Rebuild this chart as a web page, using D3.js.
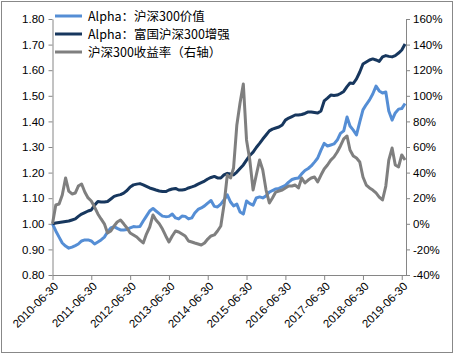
<!DOCTYPE html>
<html>
<head>
<meta charset="utf-8">
<script src="https://cdn.jsdelivr.net/npm/d3@7"></script>
<style>
  body { margin: 0; background: #fff; }
  svg { display: block; }
</style>
</head>
<body>
<div id="chart"></div>
<script>
// month-end readings, first one is 2010-06-30, last one is 2019-07-31
var tickLabels = ["2010-06-30", "2011-06-30", "2012-06-30", "2013-06-30", "2014-06-30",
                  "2015-06-30", "2016-06-30", "2017-06-30", "2018-06-30", "2019-06-30"]

var seriesNames = ["Alpha：沪深300价值", "Alpha：富国沪深300增强", "沪深300收益率（右轴）"]

// Alpha：沪深300价值 (left axis)
var valueAlpha = [
  1.000, 0.972, 0.948, 0.925, 0.913, 0.905, 0.909, 0.915, 0.921, 0.933, 0.937, 0.937,
  0.933, 0.921, 0.929, 0.937, 0.948, 0.968, 0.984, 0.989, 0.982, 0.976, 0.976, 0.978,
  0.984, 0.989, 0.988, 0.989, 1.011, 1.030, 1.050, 1.060, 1.050, 1.040, 1.030, 1.028,
  1.029, 1.038, 1.023, 1.019, 1.030, 1.029, 1.019, 1.023, 1.042, 1.056, 1.062, 1.070,
  1.081, 1.091, 1.068, 1.066, 1.077, 1.093, 1.113, 1.085, 1.070, 1.077, 1.046, 1.038,
  1.089, 1.079, 1.073, 1.101, 1.105, 1.101, 1.109, 1.124, 1.130, 1.136, 1.138, 1.144,
  1.150, 1.163, 1.173, 1.177, 1.179, 1.195, 1.208, 1.216, 1.226, 1.241, 1.257, 1.288,
  1.314, 1.304, 1.308, 1.312, 1.327, 1.353, 1.363, 1.417, 1.382, 1.366, 1.347, 1.398,
  1.445, 1.466, 1.484, 1.507, 1.538, 1.519, 1.511, 1.515, 1.441, 1.405, 1.433, 1.448,
  1.450, 1.470
]

// Alpha：富国沪深300增强 (left axis)
var fuguoAlpha = [
  1.000, 1.003, 1.005, 1.007, 1.009, 1.011, 1.015, 1.019, 1.029, 1.038, 1.044, 1.050,
  1.054, 1.073, 1.087, 1.085, 1.085, 1.087, 1.097, 1.107, 1.111, 1.114, 1.120, 1.130,
  1.144, 1.152, 1.155, 1.157, 1.152, 1.146, 1.140, 1.136, 1.132, 1.128, 1.126, 1.126,
  1.132, 1.136, 1.138, 1.132, 1.132, 1.134, 1.140, 1.144, 1.148, 1.155, 1.161, 1.167,
  1.175, 1.181, 1.185, 1.179, 1.179, 1.191, 1.197, 1.195, 1.191, 1.202, 1.216, 1.230,
  1.249, 1.267, 1.280, 1.298, 1.314, 1.331, 1.347, 1.363, 1.370, 1.374, 1.378, 1.386,
  1.405, 1.413, 1.419, 1.425, 1.425, 1.427, 1.431, 1.437, 1.437, 1.435, 1.433, 1.441,
  1.480, 1.491, 1.503, 1.501, 1.503, 1.509, 1.517, 1.536, 1.550, 1.548, 1.566, 1.593,
  1.624, 1.632, 1.640, 1.644, 1.640, 1.634, 1.652, 1.657, 1.654, 1.652, 1.657, 1.667,
  1.679, 1.702
]

// 沪深300收益率, percent (right axis)
var hs300Return = [
   0.0, 14.7, 15.5, 22.5, 35.8, 25.6, 23.3, 24.1, 29.5, 31.1, 24.8, 20.2,
  17.8, 13.1,  7.7,  3.8,  0.0, -7.2, -5.6, -1.7,  1.4,  3.0,  0.0, -3.3,
  -7.2, -8.7,-10.3,-12.7,-15.0, -8.0, -2.5,  6.9,  3.0,  0.0, -4.1, -9.5,
 -14.2, -9.5, -5.6, -6.4, -8.0, -9.5,-13.4,-14.2,-15.0,-15.8,-16.6,-15.0,
 -11.9, -9.5, -8.7, -5.6, -1.7, 14.7, 38.1, 35.8, 43.6, 77.2, 94.4,109.2,
  65.5, 49.8, 26.4, 38.1, 49.8, 42.0, 26.4, 16.3, 20.2, 24.8, 25.6, 26.4,
  28.0, 29.5, 29.5, 30.3, 28.0, 35.8, 31.9, 34.2, 35.8, 36.6, 32.7, 38.1,
  42.8, 45.9, 49.8, 52.2, 56.1, 60.8, 66.3, 68.6, 57.7, 53.0, 51.4, 48.3,
  36.6, 30.3, 28.0, 26.4, 24.1, 20.9, 18.6, 29.5, 49.8, 59.2, 45.9, 44.4,
  53.8, 49.8
]

var colors = ["#558ED5", "#17375E", "#7F7F7F"]

var W = 454, H = 354
var margin = {top: 19, right: 48, bottom: 79, left: 52.5}

var parseDate = d3.timeParse("%Y-%m-%d")
var start = new Date(2010, 6, 1)
var dates = valueAlpha.map((d, i) => d3.timeDay.offset(d3.timeMonth.offset(start, i), -1))

var x = d3.scaleTime()
  .domain([parseDate("2010-06-30"), parseDate("2019-08-09")])
  .range([margin.left, W - margin.right])
var yL = d3.scaleLinear()
  .domain([0.8, 1.8])
  .range([H - margin.bottom, margin.top])
var yR = d3.scaleLinear()
  .domain([-40, 160])
  .range([H - margin.bottom, margin.top])

var svg = d3.select("#chart")
  .append("svg")
  .attr("width", W)
  .attr("height", H)

// outer frame
svg.append("rect")
  .attr("x", 1.5).attr("y", 1.5)
  .attr("width", W - 3).attr("height", H - 3)
  .attr("fill", "#fff")
  .attr("stroke", "#888")
  .attr("stroke-width", 1)

var axisColor = "#868686"
var tickFont = "'Liberation Sans', Arial, sans-serif"

function styleAxis(g) {
  g.select(".domain").attr("stroke", axisColor)
  g.selectAll(".tick line").attr("stroke", axisColor)
  g.selectAll("text")
    .attr("fill", "#000")
    .style("font-family", tickFont)
    .style("font-size", "11.5px")
}

svg.append("g")
  .attr("transform", `translate(${margin.left},0)`)
  .call(d3.axisLeft(yL)
    .tickValues(d3.range(0, 11).map(i => 0.8 + i * 0.1))
    .tickFormat(d3.format(".2f"))
    .tickSize(4).tickSizeOuter(0).tickPadding(4))
  .call(styleAxis)

svg.append("g")
  .attr("transform", `translate(${W - margin.right},0)`)
  .call(d3.axisRight(yR)
    .tickValues(d3.range(-40, 161, 20))
    .tickFormat(d => d + "%")
    .tickSize(4).tickSizeOuter(0).tickPadding(3))
  .call(styleAxis)

var xAxis = svg.append("g")
  .attr("transform", `translate(0,${H - margin.bottom})`)
  .call(d3.axisBottom(x)
    .tickValues(tickLabels.map(parseDate))
    .tickFormat(d3.timeFormat("%Y-%m-%d"))
    .tickSize(5).tickSizeOuter(0))
  .call(styleAxis)

xAxis.selectAll(".tick text")
  .attr("text-anchor", "end")
  .attr("dy", null)
  .attr("y", null)
  .attr("transform", "translate(6,12) rotate(-45)")

// lines
var lineL = d3.line()
  .x((d, i) => x(dates[i]))
  .y(d => yL(d))
var lineR = d3.line()
  .x((d, i) => x(dates[i]))
  .y(d => yR(d))

svg.append("path")
  .datum(valueAlpha)
  .attr("fill", "none")
  .attr("stroke", colors[0])
  .attr("stroke-width", 3)
  .attr("stroke-linejoin", "round")
  .attr("d", lineL)

svg.append("path")
  .datum(fuguoAlpha)
  .attr("fill", "none")
  .attr("stroke", colors[1])
  .attr("stroke-width", 3)
  .attr("stroke-linejoin", "round")
  .attr("d", lineL)

svg.append("path")
  .datum(hs300Return)
  .attr("fill", "none")
  .attr("stroke", colors[2])
  .attr("stroke-width", 3)
  .attr("stroke-linejoin", "round")
  .attr("d", lineR)

// legend
var legend = svg.append("g")
  .selectAll("g")
  .data(seriesNames)
  .join("g")
  .attr("transform", (d, i) => `translate(55,${16 + i * 18})`)

legend.append("line")
  .attr("x1", 0).attr("x2", 27)
  .attr("stroke", (d, i) => colors[i])
  .attr("stroke-width", 3)

legend.append("text")
  .attr("x", 33)
  .attr("y", 4.5)
  .attr("fill", "#000")
  .style("font-family", "'Noto Sans CJK SC', sans-serif")
  .style("font-size", "12.5px")
  .text(d => d)
</script>
</body>
</html>
